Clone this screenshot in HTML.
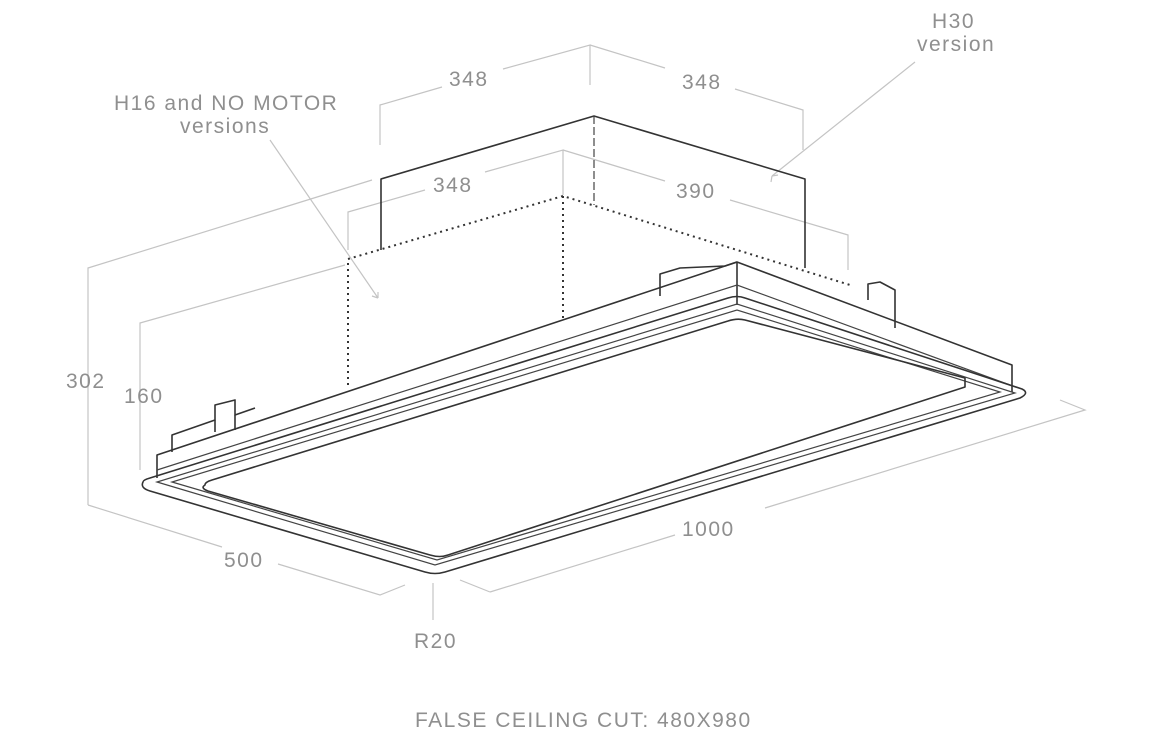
<!DOCTYPE html>
<html><head><meta charset="utf-8"><style>
html,body{margin:0;padding:0;background:#fff;width:1156px;height:742px;overflow:hidden}
svg{display:block}
text{font-family:"Liberation Sans",sans-serif;font-size:21px;letter-spacing:1.5px;fill:#8f8f8f;font-weight:normal}
.d{stroke:#c4c4c4;stroke-width:1.2;fill:none}
.k{stroke:#333;stroke-width:1.6;fill:none;stroke-linejoin:round}
.t{stroke:#444;stroke-width:1.2;fill:none}
.dot{stroke:#333;stroke-width:2;fill:none;stroke-dasharray:2 4}
</style></head><body>
<svg width="1156" height="742" viewBox="0 0 1156 742">
<path class="d" d="M88 505 V268 L372 180"/>
<path class="d" d="M140 470 V323 L345 265"/>
<path class="d" d="M88 505 L222 547 M278 564 L380 595 L405 585"/>
<path class="d" d="M490 592 L460 580 M490 592 L675 535 M765 508 L1085 410 L1060 400"/>
<path class="d" d="M380 145 V105 L442 87 M503 69 L590 45 V85 M590 45 L665 68 M735 89 L803 110 V150"/>
<path class="d" d="M348 250 V212 L425 190 M485 172 L563 150 V195 M563 150 L665 181 M730 200 L848 235 V270"/>
<path class="d" d="M915 62 L772 176 M772 176 l-1 6 M772 176 l6 -1"/>
<path class="d" d="M270 140 L378 298 M378 298 l-6 -2 M378 298 l0 -6"/>
<path class="d" d="M433 583 V620"/>
<path class="k" d="M381 250 V179 L594 116 L805 179 V268"/>
<path class="t" d="M594 116 V205" stroke-dasharray="8 3"/>
<path class="dot" d="M348 385 V259 L563 196 L850 285"/>
<path class="dot" d="M563 196 V318"/>
<path class="k" d="M157 478 V455 L737 262 L1012 365 V392"/>
<path class="k" d="M737 262 V305"/>
<path class="t" d="M157 470 L737 285 L1010 385"/>
<path class="k" d="M172 452 V435 L215 420 V405 L235 400 V415 L255 408"/>
<path class="k" d="M215 420 V432 M235 415 V430"/>
<path class="k" d="M660 296 V274 L680 268 L725 266 L737 262"/>
<path class="k" d="M868 300 V284 L880 282 L895 290 V328"/>
<path class="k" d="M143 482 Q140 488 150 491 L425 572 Q435 575 445 572 L1020 398 Q1030 393 1022 389 L745 298 Q737 295 728 298 L150 478 Q143 480 143 482 Z"/>
<path class="t" d="M157 482 L435 565 L1015 393 L737 304 Z"/>
<path class="t" d="M172 482 L437 560 L1000 392 L737 310 Z"/>
<path class="k" d="M205 485 Q200 488 208 491 L430 555 Q440 558 448 555 L965 387 V378 L745 320 Q737 318 728 321 L212 480 Q205 482 205 485 Z"/>
<text x="449" y="86">348</text>
<text x="682" y="89">348</text>
<text x="433" y="192">348</text>
<text x="676" y="198">390</text>
<text x="66" y="388">302</text>
<text x="124" y="403">160</text>
<text x="224" y="567">500</text>
<text x="682" y="536">1000</text>
<text x="414" y="648">R20</text>
<text x="932" y="28">H30</text>
<text x="917" y="51">version</text>
<text x="114" y="110">H16 and NO MOTOR</text>
<text x="180" y="133">versions</text>
<text x="415" y="727">FALSE CEILING CUT: 480X980</text>
</svg>
</body></html>
